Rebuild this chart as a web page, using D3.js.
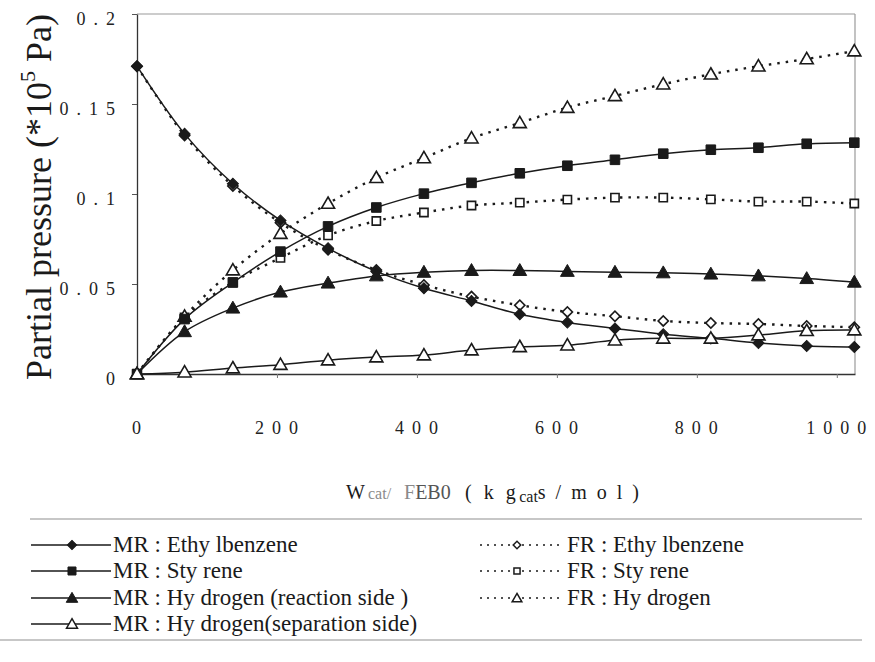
<!DOCTYPE html>
<html>
<head>
<meta charset="utf-8">
<script src="https://cdn.jsdelivr.net/npm/d3@7"></script>
<style>
  body { margin: 0; background: #fff; }
  svg { display: block; font-family: "Liberation Serif", "Times New Roman", serif; }
</style>
</head>
<body>
<svg id="chart" width="875" height="662"></svg>
<script>
// W/FEB0 values at which the partial pressures were computed
const xValues = [0, 68, 137, 205, 273, 342, 410, 478, 547, 615, 683, 752, 820, 888, 957, 1025];

// Membrane reactor (MR)
const mrEthylbenzene = [0.171, 0.1334, 0.1057, 0.0853, 0.0698, 0.0570, 0.0476, 0.0406, 0.0332, 0.0286, 0.0253, 0.0221, 0.0198, 0.0172, 0.0156, 0.0150];
const mrStyrene      = [0, 0.0305, 0.0508, 0.0680, 0.0820, 0.0925, 0.1002, 0.1062, 0.1115, 0.1157, 0.1190, 0.1224, 0.1246, 0.1257, 0.1279, 0.1285];
const mrH2Reaction   = [0, 0.0235, 0.0366, 0.0455, 0.0505, 0.0545, 0.0565, 0.0575, 0.0575, 0.0570, 0.0565, 0.0562, 0.0555, 0.0545, 0.0530, 0.0510];
const mrH2Separation = [0, 0.0010, 0.0033, 0.0052, 0.0077, 0.0094, 0.0105, 0.0133, 0.0151, 0.0160, 0.0188, 0.0198, 0.0198, 0.0216, 0.0240, 0.0244];

// Fixed-bed reactor (FR)
const frEthylbenzene = [0.171, 0.1325, 0.1045, 0.0840, 0.0690, 0.0578, 0.0495, 0.0430, 0.0382, 0.0345, 0.0321, 0.0295, 0.0283, 0.0278, 0.0267, 0.0260];
const frStyrene      = [0, 0.0315, 0.0510, 0.0645, 0.0770, 0.0850, 0.0897, 0.0936, 0.0952, 0.0969, 0.0980, 0.0980, 0.0970, 0.0958, 0.0958, 0.0947];
const frHydrogen     = [0, 0.0320, 0.0577, 0.0780, 0.0947, 0.1090, 0.1200, 0.1310, 0.1395, 0.1480, 0.1545, 0.1610, 0.1665, 0.1710, 0.1750, 0.1794];

const yTicks = [0, 0.05, 0.1, 0.15, 0.2];
const yTickLabels = ["0", "0.05", "0.1", "0.15", "0.2"];
const xTicks = [0, 200, 400, 600, 800, 1000];
const xTickLabels = ["0", "200", "400", "600", "800", "1000"];

const seriesNames = [
  "MR : Ethy lbenzene", "MR : Sty rene", "MR : Hy drogen (reaction side )", "MR : Hy drogen(separation side)",
  "FR : Ethy lbenzene", "FR : Sty rene", "FR : Hy drogen"
];

const series = [
  { name: seriesNames[0], values: mrEthylbenzene, dotted: false, shape: "diamond",  filled: true },
  { name: seriesNames[1], values: mrStyrene,      dotted: false, shape: "square",   filled: true },
  { name: seriesNames[2], values: mrH2Reaction,   dotted: false, shape: "triangle", filled: true },
  { name: seriesNames[3], values: mrH2Separation, dotted: false, shape: "triangle", filled: false },
  { name: seriesNames[4], values: frEthylbenzene, dotted: true,  shape: "diamond",  filled: false },
  { name: seriesNames[5], values: frStyrene,      dotted: true,  shape: "square",   filled: false },
  { name: seriesNames[6], values: frHydrogen,     dotted: true,  shape: "triangle", filled: false }
];

const ink = "#1a1a1a";
const svg = d3.select("#chart");

const x = d3.scaleLinear().domain([0, 1026]).range([137, 855]);
const y = d3.scaleLinear().domain([0, 0.2]).range([374, 14]);

// light frame on the top and right
svg.append("line").attr("x1", x(0)).attr("x2", x(1026)).attr("y1", y(0.2)).attr("y2", y(0.2))
  .attr("stroke", "#9a9a9a").attr("stroke-width", 1.2);
svg.append("line").attr("x1", x(1026)).attr("x2", x(1026)).attr("y1", y(0.2)).attr("y2", y(0))
  .attr("stroke", "#9a9a9a").attr("stroke-width", 1.2);

// y axis
const yAxis = svg.append("g").attr("transform", `translate(${x(0)},0)`)
  .call(d3.axisLeft(y).tickValues(yTicks).tickSize(5).tickSizeOuter(0)
    .tickFormat((d, i) => yTickLabels[i]));
yAxis.select(".domain").attr("stroke", "#333").attr("stroke-width", 1.3);
yAxis.selectAll(".tick line").attr("stroke", "#555");
yAxis.selectAll(".tick text")
  .attr("x", -14).attr("dy", "0.32em").attr("y", 5)
  .attr("font-family", "Liberation Serif").attr("font-size", 18)
  .attr("letter-spacing", 8).attr("fill", "#222");

// x axis
const xAxis = svg.append("g").attr("transform", `translate(0,${y(0)})`)
  .call(d3.axisBottom(x).tickValues(xTicks).tickSize(4).tickSizeOuter(0)
    .tickFormat((d, i) => xTickLabels[i]));
xAxis.select(".domain").attr("stroke", "#333").attr("stroke-width", 1.3);
xAxis.selectAll(".tick line").attr("stroke", "#777");
xAxis.selectAll(".tick text")
  .attr("y", 60).attr("dy", 0).attr("dx", 3)
  .attr("font-family", "Liberation Serif").attr("font-size", 18)
  .attr("letter-spacing", 8).attr("fill", "#222");

// axis titles
const yTitle = svg.append("text")
  .attr("transform", `translate(51,197) rotate(-90)`)
  .attr("text-anchor", "middle").attr("font-size", 36).attr("fill", ink);
yTitle.append("tspan").text("Partial pressure (*10");
yTitle.append("tspan").attr("font-size", 22).attr("dy", "-0.75em").text("5");
yTitle.append("tspan").attr("dy", "0.45em").text(" Pa)");

const xTitle = svg.append("text").attr("y", 499).attr("font-size", 20).attr("fill", ink);
xTitle.append("tspan").attr("x", 346).text("W");
xTitle.append("tspan").attr("x", 368).attr("font-size", 16).attr("fill", "#8a8a8a").text("cat/");
xTitle.append("tspan").attr("x", 404).attr("fill", "#8a8a8a").text("F");
xTitle.append("tspan").attr("fill", "#555").text("EB0");
xTitle.append("tspan").attr("x", 465).attr("letter-spacing", 3.5).text("( k g");
xTitle.append("tspan").attr("font-size", 16).attr("dy", 3).text("cat");
xTitle.append("tspan").attr("letter-spacing", 2.5).attr("dy", -3).text("s / m o l )");

// marker shapes
function markerPath(shape, size) {
  if (shape === "triangle") return d3.symbol().type(d3.symbolTriangle).size(size)();
  return d3.symbol().type(d3.symbolSquare).size(size)();
}
function markerSize(s) {
  if (s.shape === "diamond") return s.filled ? 62 : 52;
  if (s.shape === "square") return s.filled ? 92 : 68;
  return s.filled ? 82 : 74;
}
function markerTransform(s, px, py) {
  const dy = s.shape === "triangle" ? 1 : 0;
  return `translate(${px},${py + dy})` + (s.shape === "diamond" ? " rotate(45)" : "");
}

const line = d3.line()
  .x((d, i) => x(xValues[i]))
  .y(d => y(d))
  .curve(d3.curveCatmullRom.alpha(0.5));

// lines
series.forEach(s => {
  svg.append("path")
    .datum(s.values)
    .attr("d", line)
    .attr("fill", "none")
    .attr("stroke", ink)
    .attr("stroke-width", s.dotted ? 2.4 : 1.5)
    .attr("stroke-dasharray", s.dotted ? "2.5,6" : null);
});

// markers: dotted-series markers first so the solid ones sit above
[...series.slice(4), ...series.slice(0, 4)].forEach(s => {
  svg.append("g").selectAll("path")
    .data(s.values)
    .join("path")
    .attr("d", markerPath(s.shape, markerSize(s)))
    .attr("transform", (d, i) => markerTransform(s, x(xValues[i]), y(d)))
    .attr("fill", s.filled ? ink : "#fff")
    .attr("stroke", ink)
    .attr("stroke-width", s.filled ? 1 : 1.6);
});

// legend rules
svg.append("line").attr("x1", 30).attr("x2", 862).attr("y1", 519).attr("y2", 519)
  .attr("stroke", "#b5b5b5").attr("stroke-width", 1.5);
svg.append("line").attr("x1", 0).attr("x2", 862).attr("y1", 640).attr("y2", 640)
  .attr("stroke", "#b5b5b5").attr("stroke-width", 1.5);

// legend entries
const rowY = [545, 571, 598, 624];
series.forEach((s, k) => {
  const col = s.dotted ? 1 : 0;
  const row = s.dotted ? k - 4 : k;
  const cy = rowY[row];
  const x0 = col ? 480 : 31, x1 = col ? 561 : 111, mx = col ? 517 : 72, tx = col ? 567 : 113;
  const g = svg.append("g");
  g.append("line").attr("x1", x0).attr("x2", x1).attr("y1", cy).attr("y2", cy)
    .attr("stroke", ink).attr("stroke-width", s.dotted ? 1.6 : 1.3)
    .attr("stroke-dasharray", s.dotted ? "2,5" : null);
  const ls = s.dotted ? 0.55 : 0.7;
  g.append("path")
    .attr("d", markerPath(s.shape, markerSize(s) * ls))
    .attr("transform", markerTransform(s, mx, cy))
    .attr("fill", s.filled ? ink : "#fff")
    .attr("stroke", ink).attr("stroke-width", s.filled ? 1 : 1.5);
  g.append("text").attr("x", tx).attr("y", cy + 7)
    .attr("font-size", 23).attr("fill", ink).text(s.name);
});
</script>
</body>
</html>
